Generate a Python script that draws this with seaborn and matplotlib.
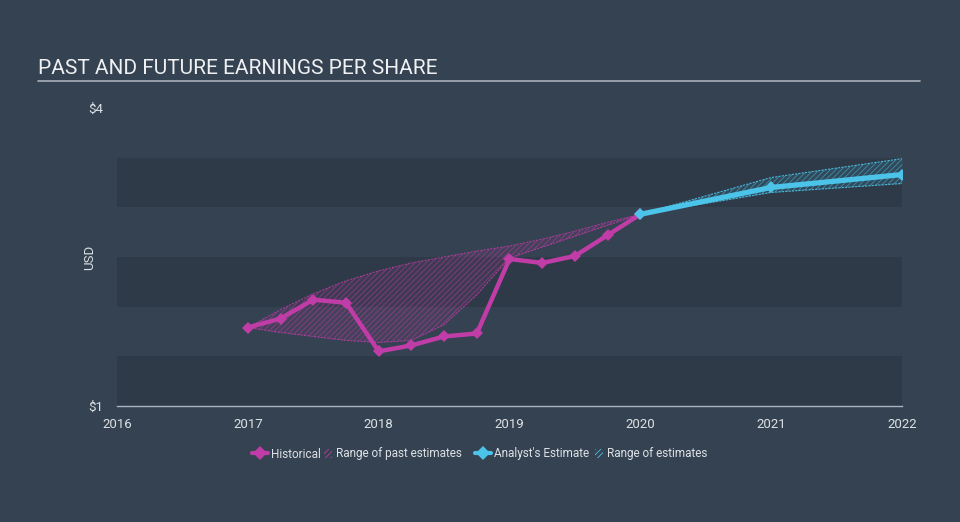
# Past and future EPS chart
import matplotlib
matplotlib.use("Agg")
import matplotlib.pyplot as plt
import seaborn as sns
import pandas as pd
from matplotlib.lines import Line2D
from matplotlib.patches import Patch

# historical EPS (quarterly)
hist_x = [2017.0, 2017.25, 2017.5, 2017.75, 2018.0, 2018.25, 2018.5, 2018.75,
          2019.0, 2019.25, 2019.5, 2019.75, 2020.0]
hist_eps = [1.79, 1.88, 2.07, 2.04, 1.55, 1.61, 1.70, 1.73,
            2.48, 2.44, 2.51, 2.72, 2.93]

# range of past estimates
past_hi = [1.79, 1.97, 2.13, 2.26, 2.36, 2.44, 2.50, 2.56,
           2.61, 2.68, 2.76, 2.85, 2.93]
past_lo = [1.79, 1.74, 1.70, 1.66, 1.64, 1.66, 1.82, 2.12,
           2.49, 2.60, 2.71, 2.82, 2.93]

# analyst estimates
fut_x = [2020.0, 2021.0, 2022.0]
fut_eps = [2.93, 3.20, 3.33]
fut_hi = [2.93, 3.30, 3.49]
fut_lo = [2.93, 3.15, 3.24]

year_ticks = [2016, 2017, 2018, 2019, 2020, 2021, 2022]
y_ticks = [1, 4]
y_labels = ["$1", "$4"]

BG = "#344251"
BAND = "#2e3a48"
MAG = "#c03ca6"
CYAN = "#4cc3e8"
TXT = "#dde1e5"

sns.set_style("dark", {"axes.facecolor": BG, "figure.facecolor": BG})
plt.rcParams["font.family"] = ["Roboto", "DejaVu Sans"]
plt.rcParams["hatch.linewidth"] = 0.6

fig = plt.figure(figsize=(9.6, 5.22), dpi=100)
ax = fig.add_axes([117 / 960, 1 - 406 / 522, 785 / 960, 298 / 522])
ax.set_facecolor(BG)

for lo, hi in [(1, 1.5), (2, 2.5), (3, 3.5)]:
    ax.axhspan(lo, hi, color=BAND, lw=0, zorder=0)

# ranges
ax.fill_between(hist_x, past_lo, past_hi, facecolor=MAG, alpha=0.12, lw=0, zorder=1)
ax.fill_between(hist_x, past_lo, past_hi, facecolor="none", edgecolor=MAG,
                hatch="//////", lw=0, alpha=0.55, zorder=1)
ax.plot(hist_x, past_hi, color=MAG, lw=0.8, ls=(0, (2, 1)), alpha=0.8, zorder=2)
ax.plot(hist_x, past_lo, color=MAG, lw=0.8, ls=(0, (2, 1)), alpha=0.8, zorder=2)

ax.fill_between(fut_x, fut_lo, fut_hi, facecolor=CYAN, alpha=0.12, lw=0, zorder=1)
ax.fill_between(fut_x, fut_lo, fut_hi, facecolor="none", edgecolor=CYAN,
                hatch="//////", lw=0, alpha=0.55, zorder=1)
ax.plot(fut_x, fut_hi, color=CYAN, lw=0.8, ls=(0, (2, 1)), alpha=0.9, zorder=2)
ax.plot(fut_x, fut_lo, color=CYAN, lw=0.8, ls=(0, (2, 1)), alpha=0.9, zorder=2)

hist_df = pd.DataFrame({"year": hist_x, "eps": hist_eps})
fut_df = pd.DataFrame({"year": fut_x, "eps": fut_eps})
sns.lineplot(data=hist_df, x="year", y="eps", ax=ax, color=MAG, lw=3.2,
             marker="D", markersize=6, markeredgewidth=0, zorder=4)
sns.lineplot(data=fut_df, x="year", y="eps", ax=ax, color=CYAN, lw=3.8,
             marker="D", markersize=6, markeredgewidth=0, zorder=5)

ax.set_xlim(2016, 2022)
ax.set_ylim(1, 4)
ax.set_xticks(year_ticks)
ax.set_xticklabels([str(y) for y in year_ticks], color=TXT, fontsize=9.5)
ax.set_yticks(y_ticks)
ax.set_yticklabels(y_labels, color=TXT, fontsize=9.5)
ax.tick_params(axis="x", length=7, width=1, color="#aab4c0", pad=2, direction="out")
ax.tick_params(axis="y", length=0, pad=10)
ax.set_xlabel("")
ax.set_ylabel("USD", color=TXT, fontsize=9.5)
ax.yaxis.set_label_coords(-0.026, 0.5)
for s in ["top", "right", "left"]:
    ax.spines[s].set_visible(False)
ax.spines["bottom"].set_color("#aab4c0")
ax.spines["bottom"].set_linewidth(1)
ax.grid(False)

# title + underline
fig.text(38 / 960, 1 - 69 / 522, "PAST AND FUTURE EARNINGS PER SHARE",
         color="#eef0f2", fontsize=15, va="center", ha="left")
fig.add_artist(Line2D([38 / 960, 920 / 960], [1 - 81 / 522, 1 - 81 / 522],
                      color="#a9b1ba", lw=1.2))

# legend: four entries placed one by one
leg_items = [
    (Line2D([0], [0], color=MAG, lw=3, marker="D", markersize=7, markeredgewidth=0),
     "Historical", 252, 1.35),
    (Patch(facecolor="none", edgecolor=MAG, hatch="//////", lw=0),
     "Range of past estimates", 324, 0.68),
    (Line2D([0], [0], color=CYAN, lw=3, marker="D", markersize=7, markeredgewidth=0),
     "Analyst's Estimate", 475, 1.35),
    (Patch(facecolor="none", edgecolor=CYAN, hatch="//////", lw=0),
     "Range of estimates", 595, 0.68),
]
for h, lab, x0, hl in leg_items:
    leg = fig.legend([h], [lab], loc="center left",
                     bbox_to_anchor=(x0 / 960, 1 - 454 / 522),
                     frameon=False, fontsize=8.5, handlelength=hl,
                     handletextpad=0.3, borderpad=0, borderaxespad=0,
                     handleheight=0.9)
    for t in leg.get_texts():
        t.set_color(TXT)

fig.savefig("out.png", dpi=100, facecolor=BG)
